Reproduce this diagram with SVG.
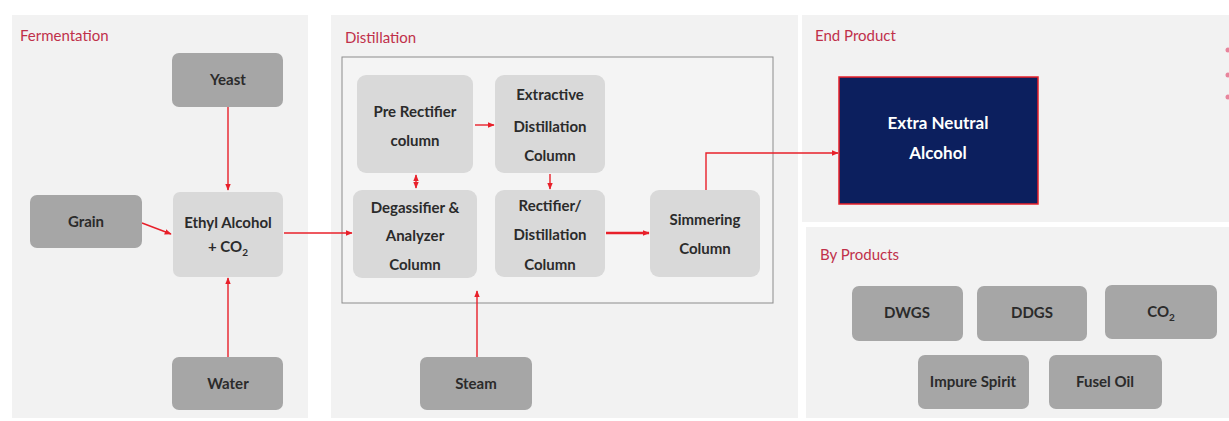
<svg xmlns="http://www.w3.org/2000/svg" width="1229" height="421" viewBox="0 0 1229 421">
<style>
.panel{fill:#f2f2f2}
.sec{font-family:Lato,"Liberation Sans",sans-serif;font-size:15px;fill:#c0304a}
.dark rect{fill:#a6a6a6}
.light rect{fill:#d9d9d9}
.t{font-family:Lato,"Liberation Sans",sans-serif;font-size:15px;font-weight:bold;fill:#2b2b2b;text-anchor:middle}
.big{font-size:17px;fill:#ffffff}
.c{stroke:#e8202a;stroke-width:1.4;fill:none}
.thick{stroke-width:2.6}
</style>
<defs>
<marker id="ah" viewBox="0 0 10 10" refX="9" refY="5" markerWidth="7" markerHeight="7" orient="auto-start-reverse" markerUnits="userSpaceOnUse">
<path d="M0,1 L10,5 L0,9 z" fill="#e8202a"/>
</marker>
</defs>
<rect width="1229" height="421" fill="#ffffff"/>
<!-- panels -->
<rect class="panel" x="12" y="15" width="296" height="403"/>
<rect class="panel" x="331" y="15" width="467" height="403"/>
<rect class="panel" x="802" y="15" width="427" height="207"/>
<rect class="panel" x="806" y="227" width="423" height="191"/>
<rect x="342" y="57" width="431" height="246" fill="#f4f4f4" stroke="#8c8c8c" stroke-width="1"/>
<text class="sec" x="20" y="41">Fermentation</text>
<text class="sec" x="345" y="43">Distillation</text>
<text class="sec" x="815" y="41">End Product</text>
<text class="sec" x="820" y="260">By Products</text>
<g id="bullets" fill="#e8849c">
<circle cx="1228" cy="50" r="2.5"/>
<circle cx="1228" cy="75" r="2.5"/>
<circle cx="1228" cy="97" r="2.5"/>
</g>
<!-- connectors -->
<g id="connectors">
<path class="c" d="M228,107 V190" marker-end="url(#ah)"/>
<path class="c" d="M228,357 V278" marker-end="url(#ah)"/>
<path class="c" d="M142,223 L171,234" marker-end="url(#ah)"/>
<path class="c" d="M284,233 H352" marker-end="url(#ah)"/>
<path class="c" d="M475,125 H494" marker-end="url(#ah)"/>
<path class="c" d="M416,175 V188" marker-start="url(#ah)" marker-end="url(#ah)"/>
<path class="c" d="M550,174 V189" marker-end="url(#ah)"/>
<path class="c thick" d="M606,233 H649" marker-end="url(#ah)"/>
<path class="c" d="M706,190 V153 H838" marker-end="url(#ah)"/>
<path class="c" d="M477,357 V291" marker-end="url(#ah)"/>
</g>
<!-- fermentation nodes -->
<g id="yeast" class="dark"><rect x="172" y="53" width="111" height="54" rx="7"/><text class="t" x="228" y="85">Yeast</text></g>
<g id="grain" class="dark"><rect x="30" y="195" width="112" height="53" rx="7"/><text class="t" x="86" y="227">Grain</text></g>
<g id="ethyl" class="light"><rect x="173" y="192" width="110" height="85" rx="7"/><text class="t" x="228" y="228">Ethyl Alcohol</text><text class="t" x="228" y="252">+ CO<tspan font-size="10" dy="4">2</tspan></text></g>
<g id="water" class="dark"><rect x="172" y="357" width="111" height="53" rx="7"/><text class="t" x="228" y="389">Water</text></g>
<!-- distillation nodes -->
<g id="prerectifier" class="light"><rect x="357" y="75" width="116" height="98" rx="9"/><text class="t" x="415" y="117">Pre Rectifier</text><text class="t" x="415" y="146">column</text></g>
<g id="extractive" class="light"><rect x="495" y="75" width="110" height="98" rx="9"/><text class="t" x="550" y="100">Extractive</text><text class="t" x="550" y="132">Distillation</text><text class="t" x="550" y="161">Column</text></g>
<g id="degassifier" class="light"><rect x="353" y="190" width="124" height="88" rx="9"/><text class="t" x="415" y="213">Degassifier &amp;</text><text class="t" x="415" y="241">Analyzer</text><text class="t" x="415" y="270">Column</text></g>
<g id="rectifier" class="light"><rect x="495" y="190" width="110" height="87" rx="9"/><text class="t" x="550" y="211">Rectifier/</text><text class="t" x="550" y="240">Distillation</text><text class="t" x="550" y="270">Column</text></g>
<g id="simmering" class="light"><rect x="650" y="190" width="110" height="87" rx="9"/><text class="t" x="705" y="225">Simmering</text><text class="t" x="705" y="254">Column</text></g>
<g id="steam" class="dark"><rect x="420" y="357" width="112" height="53" rx="7"/><text class="t" x="476" y="389">Steam</text></g>
<!-- end product -->
<g id="ena"><rect x="839" y="77" width="199" height="127" fill="#0c1f5e" stroke="#e8202a" stroke-width="1.5"/><text class="t big" x="938" y="129">Extra Neutral</text><text class="t big" x="938" y="159">Alcohol</text></g>
<!-- by products -->
<g id="dwgs" class="dark"><rect x="852" y="286" width="111" height="55" rx="7"/><text class="t" x="907" y="318">DWGS</text></g>
<g id="ddgs" class="dark"><rect x="977" y="286" width="110" height="55" rx="7"/><text class="t" x="1032" y="318">DDGS</text></g>
<g id="co2" class="dark"><rect x="1105" y="285" width="112" height="54" rx="7"/><text class="t" x="1161" y="317">CO<tspan font-size="10" dy="4">2</tspan></text></g>
<g id="impure" class="dark"><rect x="918" y="355" width="111" height="54" rx="7"/><text class="t" x="973" y="387">Impure Spirit</text></g>
<g id="fusel" class="dark"><rect x="1049" y="355" width="113" height="54" rx="7"/><text class="t" x="1105" y="387">Fusel Oil</text></g>
</svg>
